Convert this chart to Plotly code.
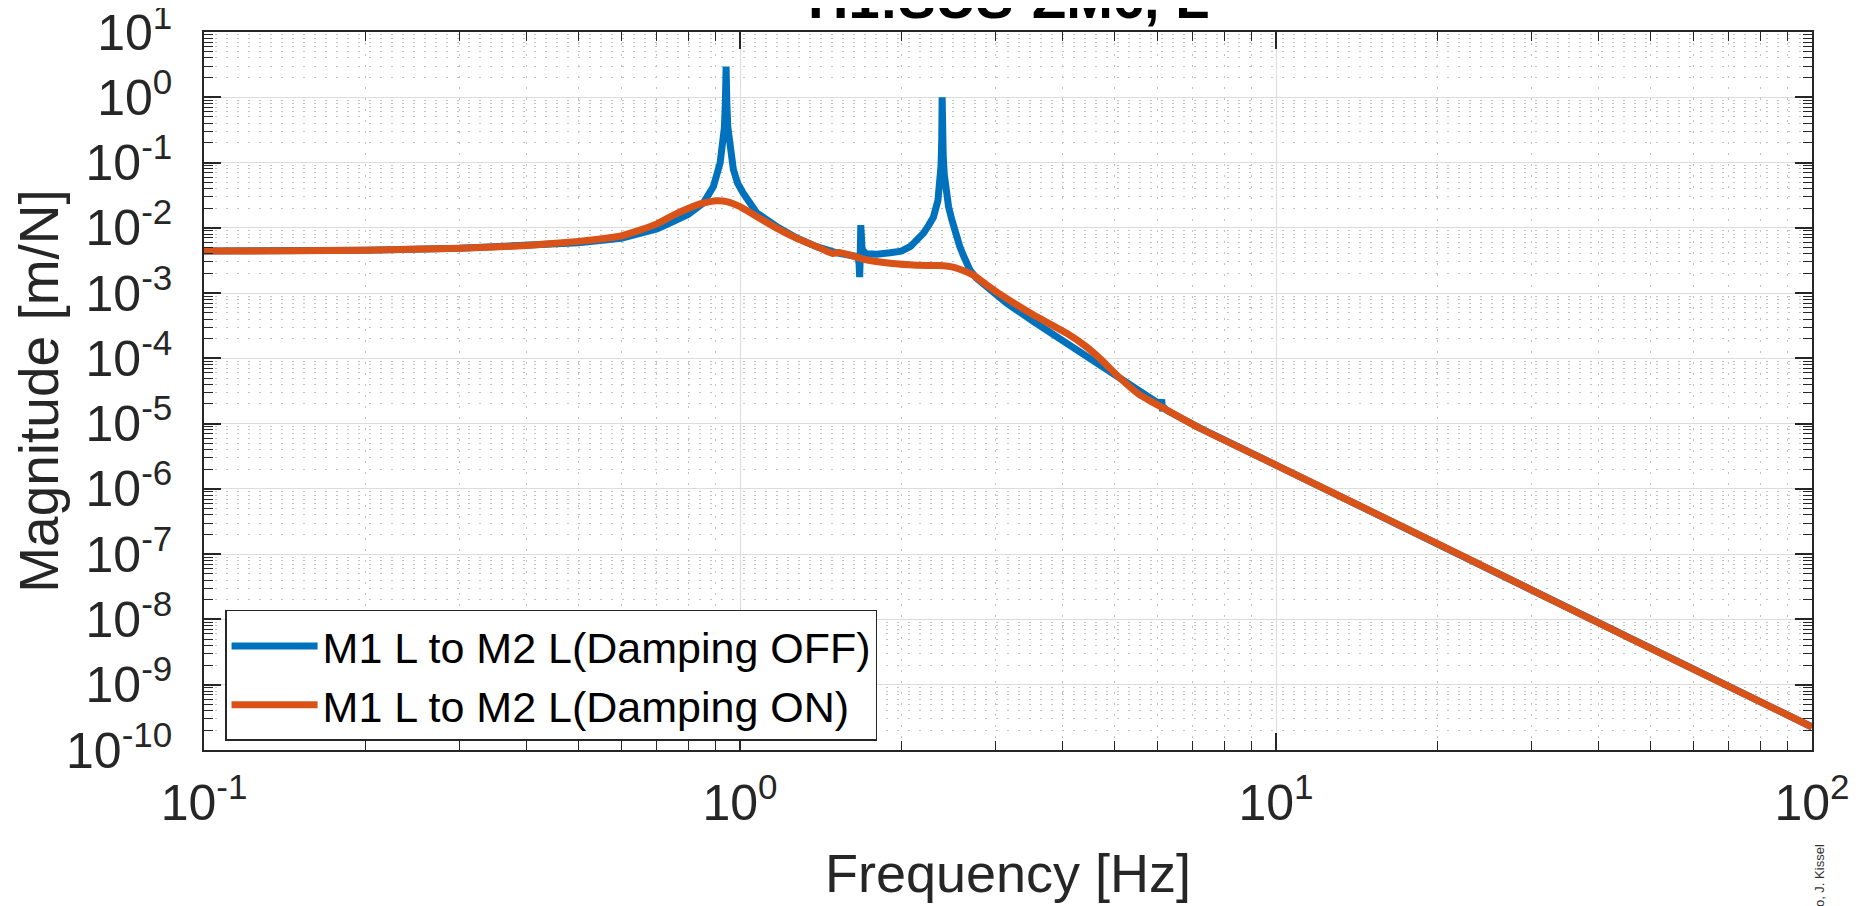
import plotly.graph_objects as go

# ---------------- data ----------------
freq_off = [0.1, 0.15, 0.2, 0.3, 0.4, 0.5, 0.6, 0.65, 0.7, 0.75, 0.8, 0.854, 0.892,
            0.918, 0.928, 0.935, 0.939, 0.9415, 0.942, 0.9425, 0.945, 0.949, 0.955,
            0.972, 0.99, 1.014, 1.074, 1.17, 1.276, 1.39, 1.515, 1.627, 1.66, 1.668,
            1.672, 1.676, 1.680, 1.684, 1.69, 1.72, 1.80, 1.905, 2.0, 2.08, 2.15, 2.2,
            2.25, 2.295, 2.34, 2.36, 2.372, 2.379, 2.382, 2.383, 2.384, 2.387, 2.394,
            2.405, 2.43, 2.45, 2.483, 2.51, 2.536, 2.57, 2.61, 2.65, 2.686, 2.76, 2.885,
            3.01, 3.145, 3.53, 4.07, 4.69, 5.42, 6.0, 6.09, 6.12, 6.145, 6.17, 6.25,
            7.2, 10, 20, 50, 100]
mag_off = [4.4e-3, 4.45e-3, 4.55e-3, 4.85e-3, 5.3e-3, 5.9e-3, 6.9e-3, 8.3e-3, 9.6e-3,
           1.25e-2, 1.6e-2, 2.4e-2, 4.3e-2, 9.8e-2, 0.17, 0.34, 0.8, 2.0, 2.95, 2.0,
           0.8, 0.35, 0.2, 7.8e-2, 4.8e-2, 3.4e-2, 1.7e-2, 1.05e-2, 7.0e-3, 5.15e-3,
           4.15e-3, 3.85e-3, 3.6e-3, 2.8e-3, 1.75e-3, 3.5e-3, 1.1e-2, 6.0e-3, 4.6e-3,
           4.0e-3, 3.95e-3, 4.15e-3, 4.4e-3, 5.2e-3, 6.6e-3, 8.3e-3, 1.1e-2, 1.45e-2,
           2.6e-2, 4.5e-2, 9e-2, 0.23, 0.7, 1.0, 0.7, 0.3, 0.13, 6.5e-2, 3.0e-2,
           2.1e-2, 1.35e-2, 9.5e-3, 7.0e-3, 5.2e-3, 3.8e-3, 2.8e-3, 2.25e-3, 1.7e-3,
           1.25e-3, 8.8e-4, 7.0e-4, 3.66e-4, 1.7e-4, 7.5e-5, 3.5e-5, 2.05e-5, 1.95e-5,
           2.35e-5, 1.55e-5, 1.8e-5, 1.6e-5, 8.6e-6, 2.32e-6, 1.45e-7, 3.6e-9, 2.25e-10]

freq_on = [0.1, 0.15, 0.2, 0.3, 0.4, 0.5, 0.6, 0.65, 0.7, 0.75, 0.8, 0.842, 0.875,
           0.905, 0.944, 1.0, 1.074, 1.17, 1.276, 1.39, 1.45, 1.49, 1.53, 1.6, 1.70,
           1.905, 2.14, 2.36, 2.47, 2.57, 2.72, 2.88, 3.05, 3.53, 4.07, 4.43, 4.69,
           5.12, 5.57, 6.17, 7.21, 10, 20, 50, 100]
mag_on = [4.4e-3, 4.45e-3, 4.55e-3, 4.85e-3, 5.35e-3, 6.2e-3, 7.5e-3, 9.2e-3, 1.15e-2,
          1.55e-2, 1.97e-2, 2.32e-2, 2.5e-2, 2.6e-2, 2.52e-2, 2.11e-2, 1.49e-2, 9.9e-3,
          6.9e-3, 5.15e-3, 4.4e-3, 4.05e-3, 4.2e-3, 3.85e-3, 3.3e-3, 2.86e-3, 2.67e-3,
          2.64e-3, 2.54e-3, 2.32e-3, 1.9e-3, 1.35e-3, 9.7e-4, 4.6e-4, 2.42e-4, 1.5e-4,
          1.0e-4, 4.96e-5, 2.75e-5, 1.72e-5, 8.5e-6, 2.32e-6, 1.45e-7, 3.6e-9, 2.25e-10]

series_names = ["M1 L to M2 L(Damping OFF)", "M1 L to M2 L(Damping ON)"]
x_tick_vals = [0.1, 1, 10, 100]
x_tick_text = ["10<sup>-1</sup>", "10<sup>0</sup>", "10<sup>1</sup>", "10<sup>2</sup>"]
y_exponents = [1, 0, -1, -2, -3, -4, -5, -6, -7, -8, -9, -10]
y_tick_vals = [10.0 ** e for e in y_exponents]
y_tick_text = ["10<sup>%d</sup>" % e for e in y_exponents]

title_text = "H1:SUS-ZM6, L"
x_title = "Frequency [Hz]"
y_title = "Magnitude [m/N]"
credit_text = "o, J. Kissel"

# ---------------- figure ----------------
FONT = "Liberation Sans, Arial, Helvetica, sans-serif"
AX = "#262626"

fig = go.Figure()
fig.add_trace(go.Scatter(x=freq_off, y=mag_off, mode="lines", name=series_names[0],
                         line=dict(color="#0072BD", width=7)))
fig.add_trace(go.Scatter(x=freq_on, y=mag_on, mode="lines", name=series_names[1],
                         line=dict(color="#D95319", width=7, shape="spline", smoothing=0.4)))

common = dict(
    type="log", showline=True, linecolor=AX, linewidth=1.5, mirror="allticks",
    ticks="inside", ticklen=17, tickwidth=1.5, tickcolor=AX,
    showgrid=True, gridcolor="#dcdcdc", gridwidth=1, zeroline=False,
    tickfont=dict(family=FONT, size=50, color=AX), tickmode="array",
    ticklabeloverflow="allow",
    minor=dict(ticks="inside", ticklen=9, tickwidth=1.2, tickcolor=AX,
               showgrid=True, gridcolor="#c2c2c2", griddash="2px,9px", gridwidth=1,
               tickmode="linear", dtick="D1"),
    automargin=False,
)

# the page body has an 8px margin, so margins are offset by 8px
fig.update_layout(
    width=1870, height=906,
    margin=dict(l=196, r=66, t=24, b=164),
    paper_bgcolor="white", plot_bgcolor="white",
    font=dict(family=FONT, color=AX),
    xaxis=dict(common, range=[-1, 2], tickvals=x_tick_vals, ticktext=x_tick_text,
               ticklabelstandoff=8,
               title=dict(text=x_title, font=dict(size=54, color=AX), standoff=24)),
    yaxis=dict(common, range=[-10, 1], tickvals=y_tick_vals, ticktext=y_tick_text,
               ticklabelstandoff=20,
               title=dict(text=y_title, font=dict(size=55, color=AX), standoff=2)),
    showlegend=True,
    legend=dict(x=0.0131, y=0.195, xanchor="left", yanchor="top",
                bgcolor="white", bordercolor=AX, borderwidth=1.5,
                font=dict(family=FONT, size=43, color="black"),
                itemwidth=86, tracegroupgap=0),
)

fig.add_annotation(text="<b>%s</b>" % title_text, xref="paper", yref="paper",
                   x=0.5, y=1.047, xanchor="center", yanchor="middle", showarrow=False,
                   font=dict(family=FONT, size=56, color="black"))
fig.add_annotation(text=credit_text, xref="paper", yref="paper", x=1.0044, y=-0.1755,
                   xanchor="center", yanchor="middle", textangle=-90, showarrow=False,
                   font=dict(family=FONT, size=13, color="#333333"))

fig.write_html("out.html")
